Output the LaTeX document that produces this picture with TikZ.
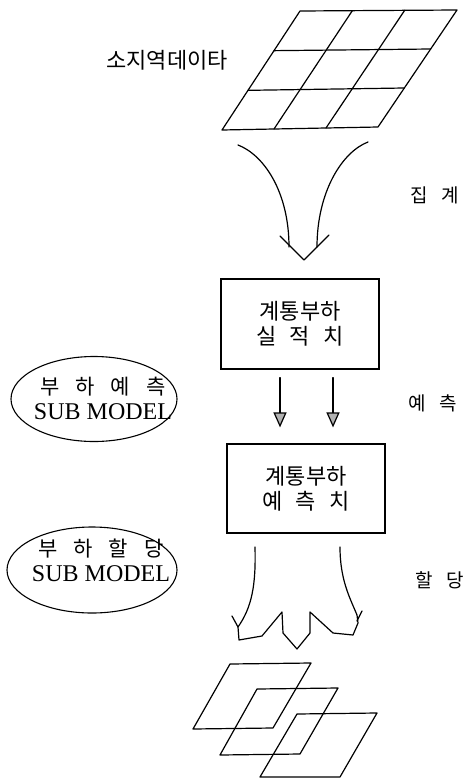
\documentclass[tikz,border=0pt]{standalone}
\usepackage{fontspec}
\setmainfont{Liberation Serif}
\newfontfamily\kr{Noto Sans CJK KR}
\usetikzlibrary{shapes.geometric,arrows.meta,calc}
\begin{document}
\begin{tikzpicture}[x=1pt,y=-1pt,
  ln/.style={line width=1.2pt,line cap=round,line join=round},
  boxnode/.style={draw,line width=1.2pt,minimum width=158pt,inner sep=0pt,align=center,font=\kr\fontsize{22}{25}\selectfont},
  ell/.style={draw,ellipse,line width=1.1pt,inner sep=0pt},
  elltext/.style={inner sep=0pt,align=center,font=\fontsize{24}{25}\selectfont},
  lab/.style={font=\kr\fontsize{19}{22}\selectfont,inner sep=0pt},
  tri/.style={-{Triangle[width=13pt,length=15pt,fill=gray!60]}}
]
\useasboundingbox (0,0) rectangle (470,779);

% top grid
\coordinate (tl) at (300,11);
\coordinate (tr) at (457,10);
\coordinate (br) at (378,127);
\coordinate (bl) at (222,130);
\draw[ln] (tl) -- (tr) -- (br) -- (bl) -- cycle;
\draw[ln] ($(tl)!1/3!(bl)$) -- ($(tr)!1/3!(br)$);
\draw[ln] ($(tl)!2/3!(bl)$) -- ($(tr)!2/3!(br)$);
\draw[ln] ($(tl)!1/3!(tr)$) -- ($(bl)!1/3!(br)$);
\draw[ln] ($(tl)!2/3!(tr)$) -- ($(bl)!2/3!(br)$);
\node[lab,font=\kr\fontsize{22}{24}\selectfont] (src) at (167,60) {소지역데이타};

% funnel arrow
\draw[ln] (238,145) .. controls (264,155) and (289,192) .. (289,247);
\draw[ln] (368,142) .. controls (342,152) and (317,192) .. (317,247);
\draw[ln] (280,236) -- (304,260) -- (329,235);
\node[lab] (agg) at (435,195) {집\hspace{14pt}계};

% boxes
\node[boxnode,minimum height=90pt] (b1) at (300,324) {계통부하\\실\hspace{0.6em}적\hspace{0.6em}치};
\node[boxnode,minimum height=89pt] (b2) at (306,488.5) {계통부하\\예\hspace{0.6em}측\hspace{0.6em}치};
\draw[ln,tri] ($(b1.south)+(-20,8)$) -- ($(b2.north)+(-26,-16)$);
\draw[ln,tri] ($(b1.south)+(33,8)$) -- ($(b2.north)+(27,-16)$);
\node[lab] (pred) at (433,403) {예\hspace{14pt}측};

% ellipses
\node[ell,minimum width=166pt,minimum height=85pt] (e1) at (94,399) {};
\node[elltext] (e1t) at (103,398)
  {{\kr\fontsize{21}{25}\selectfont 부\hspace{16pt}하\hspace{16pt}예\hspace{16pt}측}\\SUB MODEL};
\node[ell,minimum width=170pt,minimum height=86pt] (e2) at (92,570) {};
\node[elltext] (e2t) at (101,560)
  {{\kr\fontsize{21}{25}\selectfont 부\hspace{16pt}하\hspace{16pt}할\hspace{16pt}당}\\SUB MODEL};

% spread arrow
\draw[ln] (255,547) .. controls (256,585) and (252,607) .. (238,627) -- (239,640) -- (262,636) -- (282,612) -- (283,633) -- (297,649) -- (310,633) -- (310,612) -- (333,633) -- (353,635) -- (358,623) -- (357,615) .. controls (350,598) and (340,580) .. (340,547);
\draw[ln] (232,616) -- (238,627);
\draw[ln] (362,611) -- (357,621);
\node[lab] (alloc) at (440,580) {할\hspace{14pt}당};

% bottom sheets
\draw[ln] (230,664) -- (311,663) -- (273,728) -- (193,729) -- cycle;
\draw[ln] (257,689) -- (338,688) -- (300,754) -- (220,755) -- cycle;
\draw[ln] (297,714) -- (377,713) -- (340,777) -- (260,777) -- cycle;
\end{tikzpicture}
\end{document}
